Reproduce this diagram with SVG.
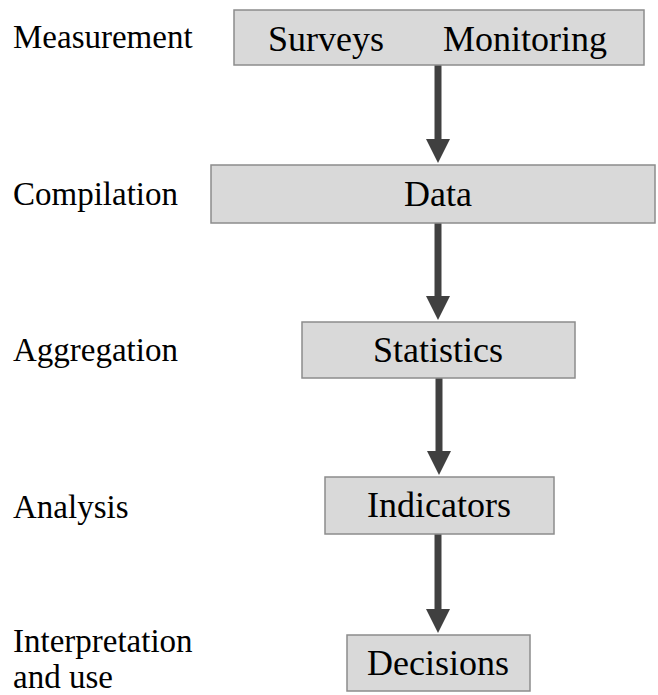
<svg xmlns="http://www.w3.org/2000/svg" width="658" height="695" viewBox="0 0 658 695">
  <style>
    .box { fill: #d9d9d9; stroke: #8c8c8c; stroke-width: 1.5; }
    .lbl { font-family: "Liberation Serif", "Times New Roman", serif; font-size: 36px; fill: #000; text-anchor: middle; }
    .side { font-family: "Liberation Serif", "Times New Roman", serif; font-size: 33px; fill: #000; }
    .flow { stroke: #404040; stroke-width: 7; fill: none; marker-end: url(#head); }
  </style>
  <defs>
    <marker id="head" markerUnits="userSpaceOnUse" markerWidth="24" markerHeight="24" refX="0" refY="12" orient="auto" viewBox="0 0 24 24">
      <path d="M0,0 L24,12 L0,24 z" fill="#404040"/>
    </marker>
  </defs>

  <!-- stage labels -->
  <g id="stages">
    <text class="side" x="13" y="48">Measurement</text>
    <text class="side" x="13" y="205">Compilation</text>
    <text class="side" x="13" y="361">Aggregation</text>
    <text class="side" x="13" y="518">Analysis</text>
    <text class="side" x="13" y="652">Interpretation</text>
    <text class="side" x="13" y="688">and use</text>
  </g>

  <!-- connectors -->
  <g id="connectors">
    <line class="flow" x1="438" y1="65" x2="438" y2="139"/>
    <line class="flow" x1="438" y1="223" x2="438" y2="296"/>
    <line class="flow" x1="439" y1="378" x2="439" y2="451"/>
    <line class="flow" x1="438" y1="534" x2="438" y2="609"/>
  </g>

  <g id="measurement">
    <rect class="box" x="234" y="10" width="410" height="55"/>
    <text class="side" style="font-size:36px" x="268" y="51">Surveys</text>
    <text class="side" style="font-size:36px" x="443" y="51">Monitoring</text>
  </g>

  <g id="data">
    <rect class="box" x="211" y="165" width="444" height="58"/>
    <text class="lbl" x="438" y="206">Data</text>
  </g>

  <g id="statistics">
    <rect class="box" x="302" y="322" width="273" height="56"/>
    <text class="lbl" x="438" y="362">Statistics</text>
  </g>

  <g id="indicators">
    <rect class="box" x="325" y="477" width="229" height="57"/>
    <text class="lbl" x="439" y="517">Indicators</text>
  </g>

  <g id="decisions">
    <rect class="box" x="347" y="635" width="183" height="56"/>
    <text class="lbl" x="438" y="675">Decisions</text>
  </g>
</svg>
